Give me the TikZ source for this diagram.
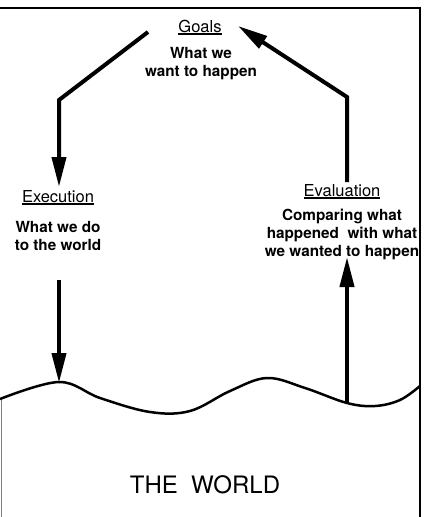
\documentclass[tikz,border=0pt]{standalone}
\usepackage{fontspec}
\setmainfont{TeX Gyre Heros}
\usepackage{tikz}
\usetikzlibrary{arrows.meta}
\newcommand{\headline}[1]{\setbox0\hbox{#1}\rlap{\rule[-2.5pt]{\wd0}{1.4pt}}\box0}
\tikzset{
	head/.style={font=\fontsize{16.5}{18}\selectfont, anchor=base, inner sep=0pt},
	body/.style={font=\fontsize{15.3}{18}\selectfont\bfseries, align=center, anchor=base, inner sep=0pt},
	flow/.style={line width=4pt, -{Triangle[length=30pt,width=14pt]}}
}

\begin{document}
\begin{tikzpicture}[x=1pt, y=-1pt]
		\useasboundingbox (0,0) rectangle (426,517);
		\coordinate (TL) at (0,8);
		\coordinate (TR) at (420,8);
		\coordinate (BR) at (420,517);
		\coordinate (LW) at (1,397);
		\coordinate (BL) at (1,517);
		\draw[line width=2pt] (TL)--(TR)--(BR);
		\draw[line width=0.8pt, gray] (LW)--(BL);
		\node[head] (goals) at (200,32) {\headline{Goals}};
		\node[body] (goalstext) at (201,76) {What we\\want to happen};
		\node[head] (exec) at (58,202) {\headline{Execution}};
		\node[body] (exectext) at (58,250) {What we do\\to the world};
		\node[head] (eval) at (342,196) {\headline{Evaluation}};
		\node[body] (evaltext) at (342,256) {Comparing what\\happened\ \ with what\\we wanted to happen};
		\node[font=\fontsize{24}{28}\selectfont, anchor=base, inner sep=0pt] (world) at (205,493) {THE\ \ WORLD};
		\coordinate (G1) at (148,32);
		\coordinate (G2) at (59,100);
		\coordinate (E1) at (59,187);
		\coordinate (E2) at (59,280);
		\coordinate (P1) at (59,383);
		\coordinate (P2) at (347,403);
		\coordinate (V1) at (347,257);
		\coordinate (V2) at (347,182);
		\coordinate (V3) at (347,97);
		\coordinate (G3) at (238,26);
		\draw[flow] (G1)--(G2)--(E1);
		\draw[flow] (E2)--(P1);
		\draw[flow] (P2)--(V1);
		\draw[flow] (V2)--(V3)--(G3);
		\draw[line width=2.5pt] plot[smooth, tension=0.6] coordinates {(0,399) (59,382) (100,398) (150,412) (190,411) (230,391) (267,378) (305,388) (347,403) (375,406) (400,400) (420,386)};
	\end{tikzpicture}
\end{document}
